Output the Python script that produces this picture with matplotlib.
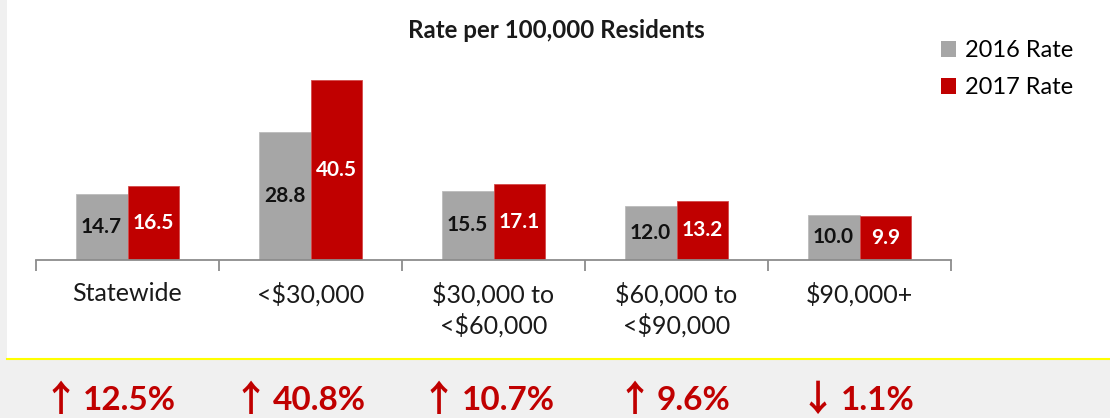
import matplotlib
matplotlib.use("Agg")
import matplotlib.pyplot as plt
from matplotlib.patches import Rectangle, Patch
from matplotlib.lines import Line2D
import numpy as np

categories = ["Statewide", "<$30,000", "$30,000 to\n<$60,000", "$60,000 to\n<$90,000", "$90,000+"]
rate_2016 = [14.7, 28.8, 15.5, 12.0, 10.0]
rate_2017 = [16.5, 40.5, 17.1, 13.2, 9.9]
change_arrows = ["\u2191", "\u2191", "\u2191", "\u2191", "\u2193"]
change_pcts = ["12.5%", "40.8%", "10.7%", "9.6%", "1.1%"]
series_names = ["2016 Rate", "2017 Rate"]

GRAY = "#a6a6a6"
RED = "#c00000"
FONT = ["Lato", "DejaVu Sans"]
plt.rcParams["font.family"] = FONT

W, H = 1110, 418
fig = plt.figure(figsize=(W / 100, H / 100), dpi=100, facecolor="#f0f0f0")

# white panel + yellow separator
fig.patches.append(Rectangle((7 / W, (H - 358) / H), 1 - 7 / W, 358 / H,
                             transform=fig.transFigure, facecolor="white", edgecolor="none", zorder=-5))
fig.lines.append(Line2D([7 / W, 1], [(H - 359) / H] * 2, transform=fig.transFigure,
                        color="#ffff00", lw=1.5, zorder=-4))

px_per_unit = 4.43
ymax = 45
left, right = 36, 951
bottom = H - 259.5
ax = fig.add_axes([left / W, bottom / H, (right - left) / W, ymax * px_per_unit / H])
ax.set_zorder(2)
ax.set_facecolor("none")

x = np.arange(len(categories))
bw = 0.284
ax.bar(x - bw / 2, rate_2016, bw, color=GRAY, edgecolor="#bcbcbc", linewidth=0.6, label=series_names[0])
ax.bar(x + bw / 2, rate_2017, bw, color=RED, edgecolor="#d44a4a", linewidth=0.6, label=series_names[1])

for xi, v in zip(x, rate_2016):
    ax.text(xi - bw / 2, v / 2, f"{v:.1f}", ha="center", va="center", fontsize=15,
            fontweight="bold", color="#111111")
for xi, v in zip(x, rate_2017):
    ax.text(xi + bw / 2, v / 2, f"{v:.1f}", ha="center", va="center", fontsize=15,
            fontweight="bold", color="white")

ax.set_xlim(-0.5, len(categories) - 0.5)
ax.set_ylim(0, ymax)
for s in ["top", "right", "left"]:
    ax.spines[s].set_visible(False)
ax.spines["bottom"].set_color("#8c8c8c")
ax.spines["bottom"].set_linewidth(1.3)
ax.set_yticks([])
ax.set_xticks(np.arange(len(categories) + 1) - 0.5)
ax.set_xticklabels([])
ax.tick_params(axis="x", direction="out", length=8, width=1.3, color="#8c8c8c")
ax.set_xticks(x, minor=True)
ax.set_xticklabels(categories, minor=True, fontsize=18, color="#1a1a1a", linespacing=1.32, va="top")
ax.tick_params(axis="x", which="minor", length=0, pad=16)

fig.text(556 / W, 1 - 30 / H, "Rate per 100,000 Residents", ha="center", va="center",
         fontsize=17.4, fontweight="bold", color="#1a1a1a")

handles = [Patch(facecolor=GRAY, edgecolor="none"), Patch(facecolor=RED, edgecolor="none")]
fig.legend(handles, series_names, loc="upper left", bbox_to_anchor=(941 / W, 1 - 40 / H),
           frameon=False, fontsize=17, handlelength=0.65, handleheight=0.65, handletextpad=0.35,
           labelspacing=0.68, borderpad=0, borderaxespad=0)

arrow_x = [43, 233, 421, 617, 800]
pct_x = [83, 273, 462, 657, 841]
for ax_px, px, a, t in zip(arrow_x, pct_x, change_arrows, change_pcts):
    fig.text(ax_px / W, 1 - 400 / H, a, ha="left", va="center", fontsize=26,
             fontweight="bold", color=RED, family=["Noto Sans CJK JP", "DejaVu Sans"])
    fig.text(px / W, 1 - 400 / H, t, ha="left", va="center", fontsize=24,
             fontweight="bold", color=RED)

fig.savefig("out.png", dpi=100, facecolor=fig.get_facecolor())
